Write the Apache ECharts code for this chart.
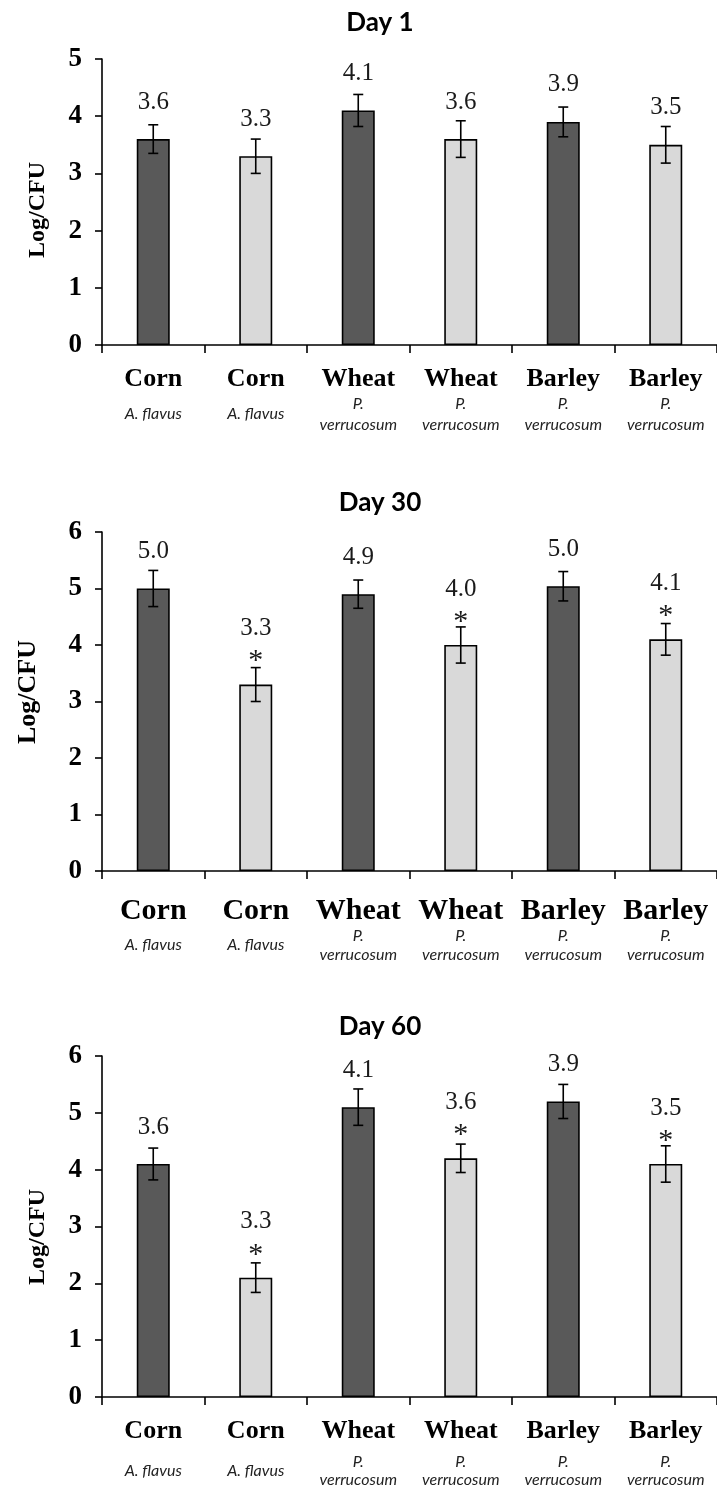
<!DOCTYPE html>
<html><head><meta charset="utf-8">
<script src="https://cdn.jsdelivr.net/npm/echarts@6/dist/echarts.min.js"></script>
<style>html,body{margin:0;padding:0;background:#fff}#c{width:717px;height:1488px}</style>
</head><body><div id="c"></div>
<script>
// ---- data ----
const crops = ['Corn', 'Corn', 'Wheat', 'Wheat', 'Barley', 'Barley'];
const species = ['A. flavus', 'A. flavus', 'P. verrucosum', 'P. verrucosum', 'P. verrucosum', 'P. verrucosum'];
const panelTitles = ['Day 1', 'Day 30', 'Day 60'];
const yAxisName = 'Log/CFU';
const yMax = [5, 6, 6];

const day1Values = [3.6, 3.3, 4.1, 3.6, 3.9, 3.5];
const day1Errors = [0.25, 0.30, 0.28, 0.32, 0.26, 0.32];
const day1Labels = ['3.6', '3.3', '4.1', '3.6', '3.9', '3.5'];
const day1Stars = [false, false, false, false, false, false];

const day30Values = [5.0, 3.3, 4.9, 4.0, 5.04, 4.1];
const day30Errors = [0.32, 0.30, 0.25, 0.32, 0.26, 0.28];
const day30Labels = ['5.0', '3.3', '4.9', '4.0', '5.0', '4.1'];
const day30Stars = [false, true, false, true, false, true];

const day60Values = [4.1, 2.1, 5.1, 4.2, 5.2, 4.1];
const day60Errors = [0.28, 0.26, 0.32, 0.25, 0.30, 0.32];
const day60Labels = ['3.6', '3.3', '4.1', '3.6', '3.9', '3.5'];
const day60Stars = [false, true, false, true, false, true];

const panelValues = [day1Values, day30Values, day60Values];
const panelErrors = [day1Errors, day30Errors, day60Errors];
const panelLabels = [day1Labels, day30Labels, day60Labels];
const panelStars = [day1Stars, day30Stars, day60Stars];

// ---- layout (positions / styles) ----
const layouts = [
  {top: 59, height: 286, titleY: 23, nameX: 38, nameY: 210, nameSize: 24,
   boldSize: 26, boldLH: 28, subLH: 21, margin: 20},
  {top: 532, height: 339, titleY: 503, nameX: 28, nameY: 692, nameSize: 26,
   boldSize: 30, boldLH: 30, subLH: 19, margin: 25},
  {top: 1056, height: 342, titleY: 1027, nameX: 38, nameY: 1237, nameSize: 24,
   boldSize: 26, boldLH: 44, subLH: 18, margin: 12}
];
const GRID_LEFT = 102, GRID_WIDTH = 618;
const DARK = '#595959', LIGHT = '#d9d9d9';
const SERIF = '"Liberation Serif", "Times New Roman", serif';
const SANS = 'Lato, "Open Sans", sans-serif';

function makeRenderItem(labels, stars) {
  return function (params, api) {
    const i = api.value(0), m = api.value(1), e = api.value(2);
    const top = api.coord([i, m + e]);
    const bot = api.coord([i, m - e]);
    const barTop = api.coord([i, m])[1];
    const x = top[0], cap = 5;
    const st = {stroke: '#000', lineWidth: 1.6};
    const children = [
      {type: 'line', shape: {x1: x, y1: top[1], x2: x, y2: bot[1]}, style: st},
      {type: 'line', shape: {x1: x - cap, y1: top[1], x2: x + cap, y2: top[1]}, style: st},
      {type: 'line', shape: {x1: x - cap, y1: bot[1], x2: x + cap, y2: bot[1]}, style: st}
    ];
    const star = stars[i];
    children.push({
      type: 'text', x: x, y: barTop - (star ? 56 : 37),
      style: {text: labels[i], font: '25px ' + SERIF, fill: '#1a1a1a', align: 'center', verticalAlign: 'middle'}
    });
    if (star) {
      children.push({
        type: 'text', x: x, y: barTop - 23,
        style: {text: '*', font: '30px ' + SERIF, fill: '#1a1a1a', align: 'center', verticalAlign: 'middle'}
      });
    }
    return {type: 'group', children: children};
  };
}

const grids = [], xAxes = [], yAxes = [], series = [], graphics = [];
layouts.forEach(function (lay, p) {
  grids.push({left: GRID_LEFT, width: GRID_WIDTH, top: lay.top, height: lay.height});
  xAxes.push({
    gridIndex: p, type: 'category', data: crops, boundaryGap: true,
    axisLine: {lineStyle: {color: '#000', width: 1.6}},
    axisTick: {show: true, length: 8, lineStyle: {color: '#000', width: 1.6}},
    axisLabel: {
      interval: 0, margin: lay.margin,
      formatter: function (v, idx) {
        const sp = species[idx];
        if (sp.length > 10) {
          const k = sp.indexOf(' ');
          return '{b|' + crops[idx] + '}\n{sb|' + sp.slice(0, k) + '}\n{sb|' + sp.slice(k + 1) + '}';
        }
        return '{b|' + crops[idx] + '}\n{sa|' + sp + '}';
      },
      rich: {
        b: {fontFamily: SERIF, fontWeight: 'bold', fontSize: lay.boldSize, lineHeight: lay.boldLH, color: '#000'},
        sa: {fontFamily: SANS, fontStyle: 'italic', fontSize: 16, lineHeight: lay.subLH * 2, color: '#222'},
        sb: {fontFamily: SANS, fontStyle: 'italic', fontSize: 16, lineHeight: lay.subLH, color: '#222'}
      }
    },
    splitLine: {show: false}
  });
  yAxes.push({
    gridIndex: p, type: 'value', min: 0, max: yMax[p], interval: 1,
    axisLine: {show: true, lineStyle: {color: '#000', width: 1.6}},
    axisTick: {show: true, length: 7, lineStyle: {color: '#000', width: 1.6}},
    axisLabel: {margin: 20, fontFamily: SERIF, fontWeight: 'bold', fontSize: 27, color: '#000'},
    splitLine: {show: false}
  });
  series.push({
    type: 'bar', xAxisIndex: p, yAxisIndex: p, barWidth: 33,
    data: panelValues[p],
    itemStyle: {
      color: function (d) { return d.dataIndex % 2 === 0 ? DARK : LIGHT; },
      borderColor: '#000', borderWidth: 1.6
    },
    z: 2
  });
  series.push({
    type: 'custom', xAxisIndex: p, yAxisIndex: p, z: 3,
    data: panelValues[p].map(function (v, i) { return [i, v, panelErrors[p][i]]; }),
    encode: {x: 0, y: 1},
    renderItem: makeRenderItem(panelLabels[p], panelStars[p])
  });
  graphics.push({
    type: 'text', x: 380, y: lay.titleY,
    style: {text: panelTitles[p], font: 'bold 26px ' + SANS, fill: '#000', align: 'center', verticalAlign: 'middle'}
  });
  graphics.push({
    type: 'text', x: lay.nameX, y: lay.nameY, rotation: Math.PI / 2,
    style: {text: yAxisName, font: 'bold ' + lay.nameSize + 'px ' + SERIF, fill: '#000', align: 'center', verticalAlign: 'middle'}
  });
});

const chart = echarts.init(document.getElementById('c'), null, {renderer: 'canvas'});
chart.setOption({
  animation: false,
  backgroundColor: '#fff',
  grid: grids, xAxis: xAxes, yAxis: yAxes, series: series, graphic: graphics
});
</script></body></html>
